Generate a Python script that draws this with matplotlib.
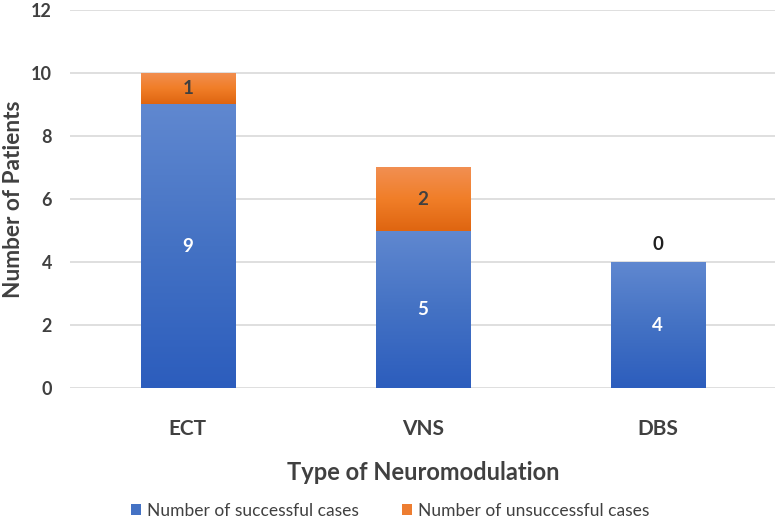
import matplotlib
matplotlib.use('Agg')
from matplotlib import pyplot as plt
from matplotlib.colors import LinearSegmentedColormap
import numpy as np

categories = ['ECT', 'VNS', 'DBS']
successful = [9, 5, 4]
unsuccessful = [1, 2, 0]
series_names = ['Number of successful cases', 'Number of unsuccessful cases']
y_ticks = [0, 2, 4, 6, 8, 10, 12]

plt.rcParams['font.family'] = ['Lato', 'DejaVu Sans']
text_col = '#404040'

blue_map = LinearSegmentedColormap.from_list('b', ['#2C5DBD', '#4472C4', '#6088D0'])
orange_map = LinearSegmentedColormap.from_list('o', ['#DF6510', '#F07E28', '#F28F52'])

fig = plt.figure(figsize=(7.8, 5.23), dpi=100)
ax = fig.add_axes([0.09, 0.258, 0.904, 0.723])

x = np.arange(len(categories))
width = 0.4
grad = np.linspace(0, 1, 256).reshape(-1, 1)


def grad_bars(bars, cmap):
    for b in bars:
        if b.get_height() == 0:
            continue
        x0, y0 = b.get_x(), b.get_y()
        im = ax.imshow(grad, cmap=cmap, origin='lower', aspect='auto',
                       extent=[x0, x0 + b.get_width(), y0, y0 + b.get_height()],
                       zorder=2)
        im.set_clip_path(b)


b1 = ax.bar(x, successful, width, color='#4472C4', label=series_names[0], zorder=2)
b2 = ax.bar(x, unsuccessful, width, bottom=successful, color='#ED7D31',
            label=series_names[1], zorder=2)
grad_bars(b1, blue_map)
grad_bars(b2, orange_map)

# labels
for i in range(len(categories)):
    ax.text(x[i], successful[i] / 2, str(successful[i]), ha='center', va='center',
            color='white', fontsize=13.5, fontweight='bold', zorder=4)
    if unsuccessful[i] > 0:
        ax.text(x[i], successful[i] + unsuccessful[i] / 2, str(unsuccessful[i]),
                ha='center', va='center', color=text_col, fontsize=13.5,
                fontweight='bold', zorder=4)
    else:
        ax.text(x[i], successful[i] + 0.55, str(unsuccessful[i]), ha='center',
                va='center', color='#202020', fontsize=13.5, fontweight='bold', zorder=4)

ax.set_xlim(-0.5, 2.5)
ax.set_ylim(0, 12)
ax.set_yticks(y_ticks)
ax.set_xticks(x)
ax.set_xticklabels(categories, fontsize=15, fontweight='bold', color=text_col)
ax.tick_params(axis='y', labelsize=13, labelcolor=text_col, length=0, pad=13)
ax.tick_params(axis='x', length=0, pad=22)
for lab in ax.get_yticklabels():
    lab.set_fontweight('bold')
ax.grid(axis='y', color='#D9D9D9', linewidth=1.2, zorder=0)
for s in ax.spines.values():
    s.set_visible(False)

ax.set_xlabel('Type of Neuromodulation', fontsize=17, fontweight='bold',
              color=text_col, labelpad=16)
ax.set_ylabel('Number of Patients', fontsize=16.3, fontweight='bold', color=text_col)
ax.yaxis.set_label_coords(-0.066, 0.5)

fig.legend(handles=[b1, b2], labels=series_names, loc='lower center',
           bbox_to_anchor=(0.5, -0.022), ncol=2, frameon=False, fontsize=12.5,
           handlelength=0.6, handleheight=0.6, handletextpad=0.3, columnspacing=2.5,
           labelcolor=text_col)

fig.savefig('out.png', dpi=100)
